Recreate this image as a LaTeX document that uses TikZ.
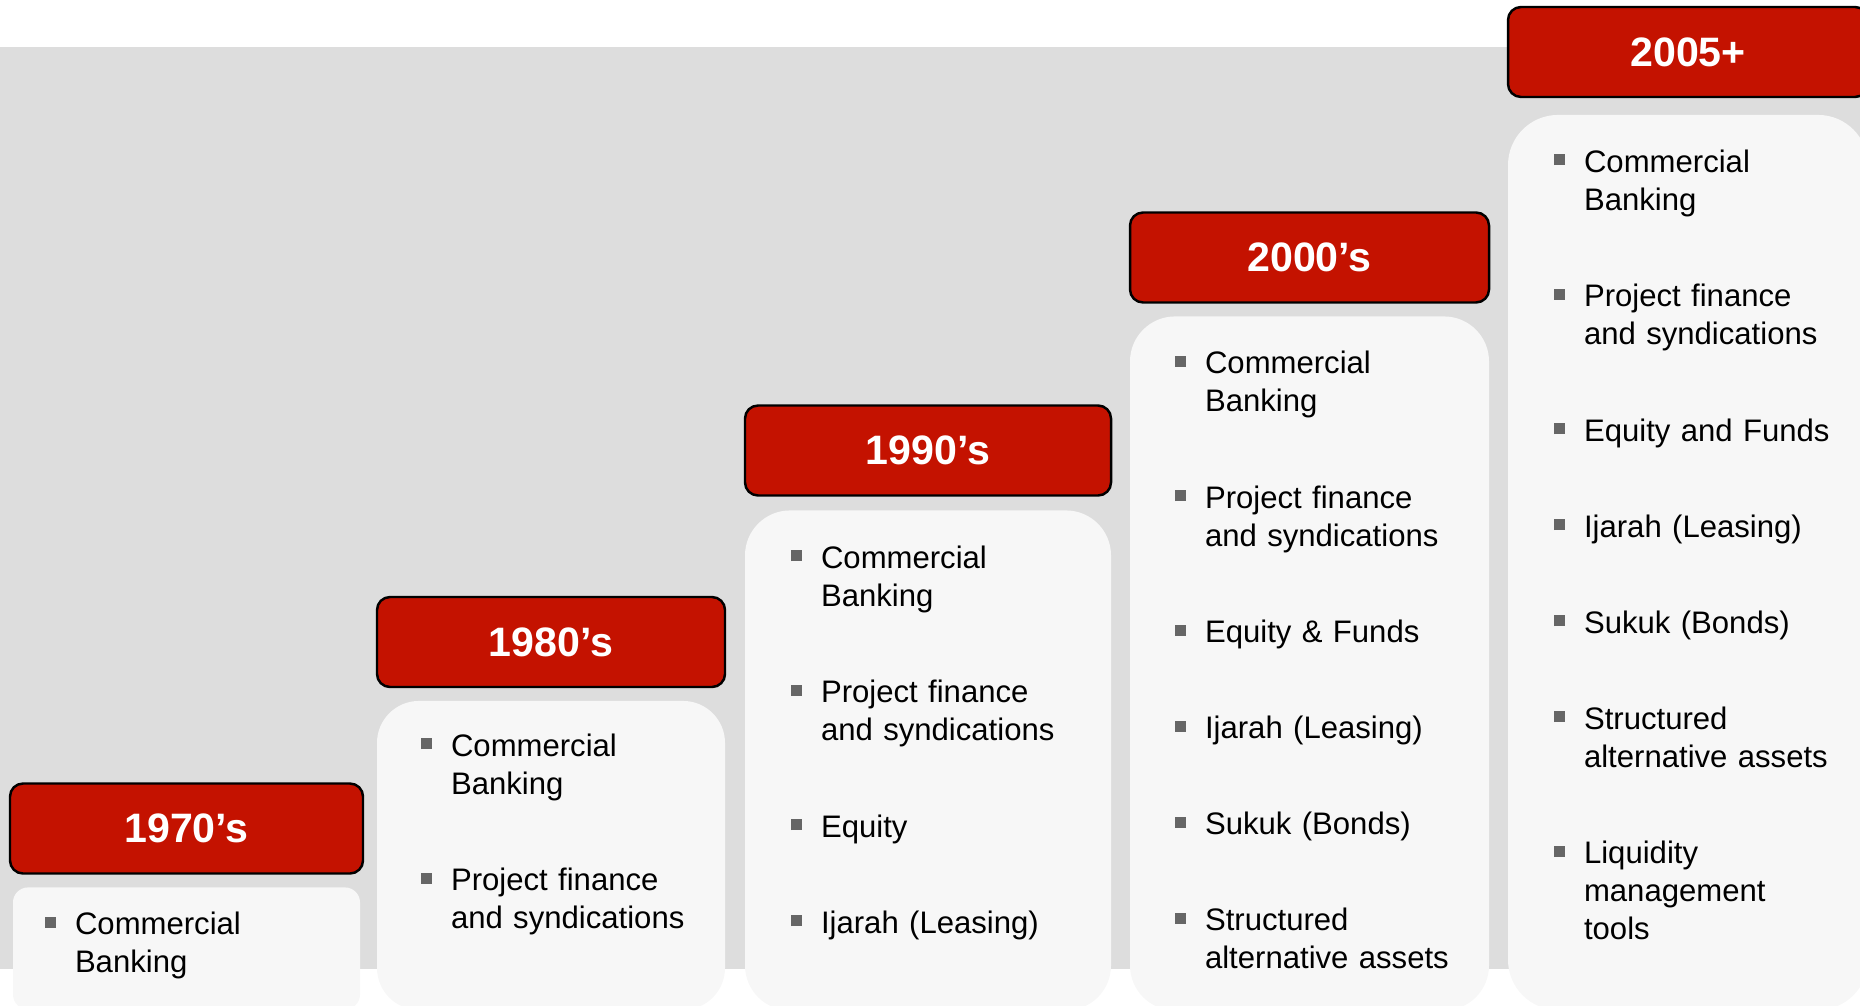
\documentclass[tikz,border=0pt]{standalone}
\usepackage{fontspec}
\setmainfont{Liberation Sans}
\usetikzlibrary{positioning}

\definecolor{bandgray}{RGB}{221,221,221}
\definecolor{panelwhite}{RGB}{247,247,247}
\definecolor{erared}{RGB}{196,18,0}
\definecolor{bulletgray}{RGB}{102,102,102}

\begin{document}
\begin{tikzpicture}[
    era/.style={draw=black, line width=0.7pt, fill=erared, rounded corners=0.13cm,
      minimum height=0.9cm, inner sep=0pt, text=white,
      font=\fontsize{11.7pt}{14pt}\selectfont\bfseries},
    panel/.style={fill=panelwhite, inner sep=0pt},
    entry/.style={anchor=base west, inner sep=0pt, text width=2.9cm, align=left,
      font=\fontsize{8.85pt}{10.8pt}\selectfont,
      execute at begin node={\llap{\textcolor{bulletgray}{\rule[0.07cm]{0.11cm}{0.11cm}}\hspace{0.19cm}}}}
  ]
    \useasboundingbox (0,0) rectangle (18.6,-10.05);
    \clip (0,0) rectangle (18.6,-10.05);

    % grey band behind the columns
    \fill[bandgray] (0,-0.47) rectangle (18.6,-9.69);

    % decade headers
    \node[era, minimum width=3.53cm] (h70) at (1.865,-8.285) {1970's};
    \node[era, minimum width=3.48cm] (h80) at (5.51,-6.42) {1980's};
    \node[era, minimum width=3.66cm] (h90) at (9.28,-4.505) {1990's};
    \node[era, minimum width=3.59cm] (h00) at (13.095,-2.575) {2000's};
    \node[era, minimum width=3.6cm] (h05) at (16.88,-0.52) {2005+};

    % panels under the headers
    \node[panel, below=0.12cm of h70, minimum width=3.47cm, minimum height=1.22cm, rounded corners=0.15cm] (p70) {};
    \node[panel, below=0.12cm of h80, minimum width=3.48cm, minimum height=3.09cm, rounded corners=0.42cm] (p80) {};
    \node[panel, below=0.13cm of h90, minimum width=3.66cm, minimum height=5cm, rounded corners=0.45cm] (p90) {};
    \node[panel, below=0.12cm of h00, minimum width=3.59cm, minimum height=6.94cm, rounded corners=0.45cm] (p00) {};
    \node[panel, below=0.16cm of h05, minimum width=3.6cm, minimum height=8.95cm, rounded corners=0.5cm] (p05) {};

    % 1970's
    \node[entry] (c70a) at ([xshift=0.62cm, yshift=-0.48cm]p70.north west) {Commercial\\Banking};

    % 1980's
    \node[entry] (c80a) at ([xshift=0.74cm, yshift=-0.56cm]p80.north west) {Commercial\\Banking};
    \node[entry] (c80b) at ([yshift=-1.345cm]c80a.base west) {Project finance\\and syndications};

    % 1990's
    \node[entry] (c90a) at ([xshift=0.76cm, yshift=-0.585cm]p90.north west) {Commercial\\Banking};
    \node[entry] (c90b) at ([yshift=-1.345cm]c90a.base west) {Project finance\\and syndications};
    \node[entry] (c90c) at ([yshift=-1.345cm]c90b.base west) {Equity};
    \node[entry] (c90d) at ([yshift=-0.96cm]c90c.base west) {Ijarah (Leasing)};

    % 2000's
    \node[entry] (c00a) at ([xshift=0.75cm, yshift=-0.58cm]p00.north west) {Commercial\\Banking};
    \node[entry] (c00b) at ([yshift=-1.345cm]c00a.base west) {Project finance\\and syndications};
    \node[entry] (c00c) at ([yshift=-1.345cm]c00b.base west) {Equity \& Funds};
    \node[entry] (c00d) at ([yshift=-0.96cm]c00c.base west) {Ijarah (Leasing)};
    \node[entry] (c00e) at ([yshift=-0.96cm]c00d.base west) {Sukuk (Bonds)};
    \node[entry] (c00f) at ([yshift=-0.96cm]c00e.base west) {Structured\\alternative assets};

    % 2005+
    \node[entry] (c05a) at ([xshift=0.76cm, yshift=-0.58cm]p05.north west) {Commercial\\Banking};
    \node[entry] (c05b) at ([yshift=-1.345cm]c05a.base west) {Project finance\\and syndications};
    \node[entry] (c05c) at ([yshift=-1.345cm]c05b.base west) {Equity and Funds};
    \node[entry] (c05d) at ([yshift=-0.96cm]c05c.base west) {Ijarah (Leasing)};
    \node[entry] (c05e) at ([yshift=-0.96cm]c05d.base west) {Sukuk (Bonds)};
    \node[entry] (c05f) at ([yshift=-0.96cm]c05e.base west) {Structured\\alternative assets};
    \node[entry] (c05g) at ([yshift=-1.345cm]c05f.base west) {Liquidity\\management\\tools};
\end{tikzpicture}
\end{document}
